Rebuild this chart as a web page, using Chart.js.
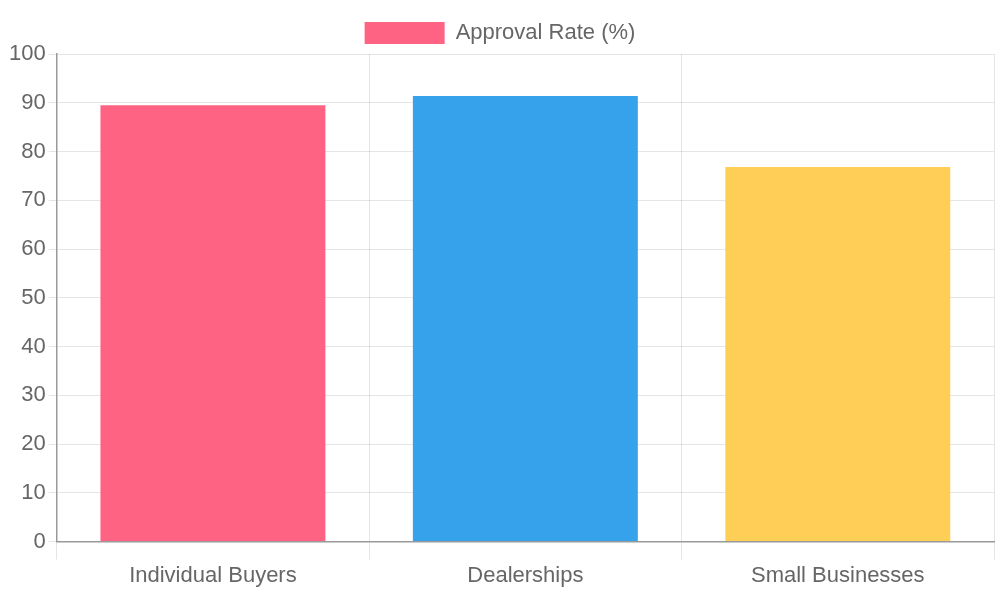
<!DOCTYPE html>
<html><head><meta charset="utf-8">
<script src="https://cdn.jsdelivr.net/npm/chart.js@4"></script>
<style>html,body{margin:0;padding:0;background:#fff}#w{width:1000px;height:600px}</style>
</head><body><div id="w"><canvas id="c"></canvas></div>
<script>
const categories = ["Individual Buyers", "Dealerships", "Small Businesses"];
const approvalRate = [89.5, 91.4, 76.8];
const barColors = ["#FF6384", "#36A2EB", "#FFCE56"];
Chart.defaults.font.family = "'Liberation Sans', Arial, sans-serif";
Chart.defaults.color = "#666";
new Chart(document.getElementById('c'), {
  type: 'bar',
  data: { labels: categories, datasets: [{ label: 'Approval Rate (%)', data: approvalRate, backgroundColor: barColors }] },
  options: {
    responsive: true, maintainAspectRatio: false, animation: false,
    layout: { padding: { left: 6, right: 6, top: 10, bottom: 8 } },
    plugins: { legend: { labels: { font: { size: 22 }, boxWidth: 80, color: '#666', padding: 12 } } },
    scales: {
      x: { grid: { tickLength: 18 }, border: { color: '#999', width: 1.5 }, ticks: { font: { size: 22 } } },
      y: { min: 0, max: 100, grid: { tickLength: 8 }, border: { color: '#999', width: 1.5 }, ticks: { stepSize: 10, font: { size: 22 } } }
    }
  }
});
</script></body></html>
